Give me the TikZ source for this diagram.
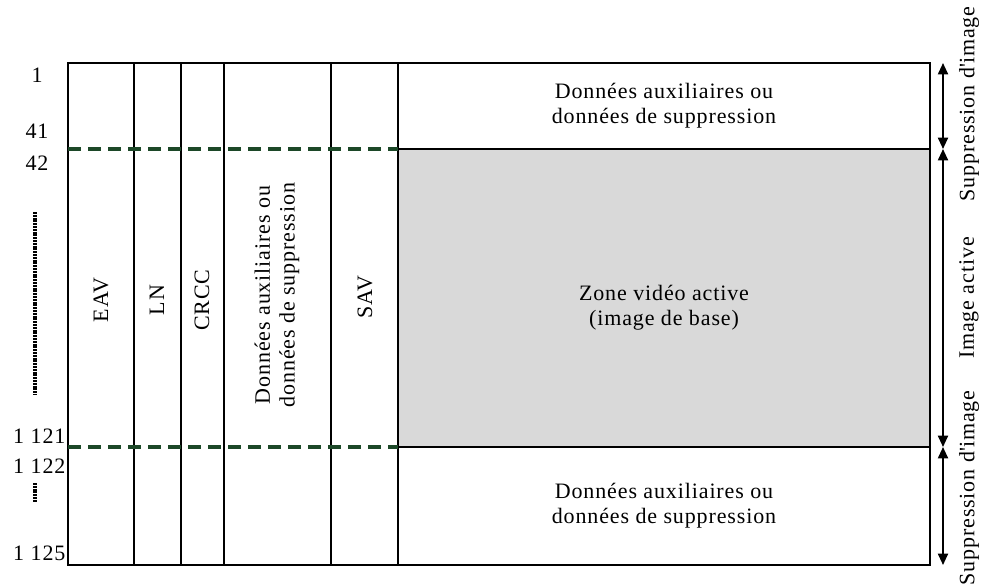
\documentclass[tikz,border=0pt]{standalone}
\usepackage{fontspec}
\setmainfont{Liberation Serif}[LetterSpace=4]
\usetikzlibrary{arrows.meta}
\definecolor{dashgreen}{RGB}{28,72,40}
\definecolor{zonegray}{RGB}{217,217,217}

\begin{document}
\begin{tikzpicture}[x=0.75pt,y=-0.75pt,font=\fontsize{16.5}{18.5}\selectfont,
  vlbl/.style={rotate=90,align=center,inner sep=1pt},
  dimarrow/.style={{Triangle[width=7.5pt,length=8.5pt]}-{Triangle[width=7.5pt,length=8.5pt]},line width=1.4pt},
  gline/.style={dashgreen,line width=2.6pt,dash pattern=on 10pt off 5pt}]
 \useasboundingbox (0,0) rectangle (982,586);
 % active zone and frame
 \fill[zonegray] (398,149) rectangle (930,447);
 \draw[line width=1pt] (68,63) rectangle (930,565);
 \foreach \x in {134,181,224,331,398}
   \draw[line width=1pt] (\x,63) -- (\x,565);
 \draw[line width=1pt] (398,149) -- (930,149);
 \draw[line width=1pt] (398,447) -- (930,447);
 \draw[gline] (68,149) -- (398,149);
 \draw[gline] (68,447) -- (398,447);
 % line numbers
 \node (l1) at (37,75) {1};
 \node (l41) at (37,131) {41};
 \node (l42) at (37,163) {42};
 \node[anchor=east,inner sep=1pt] (l1121) at (67,436) {1\hspace{0.3em}121};
 \node[anchor=east,inner sep=1pt] (l1122) at (67,466) {1\hspace{0.3em}122};
 \node[anchor=east,inner sep=1pt] (l1125) at (67,553) {1\hspace{0.3em}125};
 \draw[line width=2.5pt,dash pattern=on 1.5pt off 0.6pt] (35,212) -- (35,395);
 \draw[line width=2.5pt,dash pattern=on 1.5pt off 0.6pt] (35,483) -- (35,502);
 % columns
 \node[vlbl] (eav) at (101,300) {EAV};
 \node[vlbl] (ln) at (157,300) {LN};
 \node[vlbl] (crcc) at (202,300) {CRCC};
 \node[vlbl] (anc) at (277,295) {Données auxiliaires ou\\données de suppression};
 \node[vlbl] (sav) at (365,297) {SAV};
 % areas
 \node[align=center] (top) at (664,106) {Données auxiliaires ou\\données de suppression};
 \node[align=center] (zone) at (664,308) {Zone vidéo active\\(image de base)};
 \node[align=center] (bot) at (664,506) {Données auxiliaires ou\\données de suppression};
 % extents
 \coordinate (a0) at (943,63);
 \coordinate (a1) at (943,149);
 \coordinate (a2) at (943,447);
 \coordinate (a3) at (943,565);
 \draw[dimarrow] (a0) -- (a1);
 \draw[dimarrow] (a1) -- (a2);
 \draw[dimarrow] (a2) -- (a3);
 \node[vlbl] (supt) at (969,104) {Suppression d\textquotesingle image};
 \node[vlbl] (act) at (969,298) {Image active};
 \node[vlbl] (supb) at (969,488) {Suppression d\textquotesingle image};
\end{tikzpicture}
\end{document}
